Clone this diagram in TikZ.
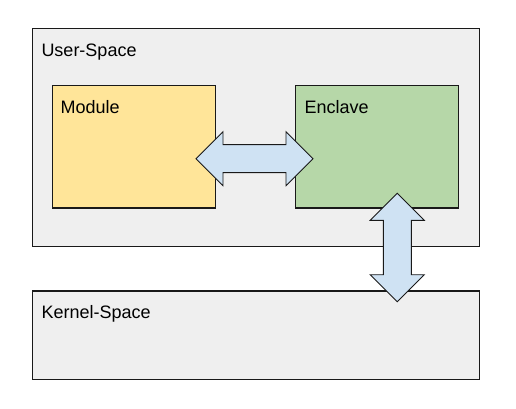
\documentclass[tikz,border=0pt]{standalone}
\usepackage{fontspec}
\setmainfont{Liberation Sans}
\usetikzlibrary{positioning,calc}

\definecolor{spacegray}{HTML}{EFEFEF}
\definecolor{moduleyellow}{HTML}{FFE599}
\definecolor{enclavegreen}{HTML}{B6D7A8}
\definecolor{linkblue}{HTML}{CFE2F3}

\begin{document}
\begin{tikzpicture}[x=1pt,y=-1pt]
	\tikzset{
		box/.style={draw=black!90,line width=1.1pt,rectangle,inner sep=0pt,outer sep=0pt,anchor=north west},
		tag/.style={inner sep=0pt,anchor=base west,font=\fontsize{18}{21}\selectfont},
		link/.style={draw=black!90,line width=0.9pt,fill=linkblue,line join=miter}
	}
	\useasboundingbox (0,0) rectangle (516,409);
	% boxes
	\node[box,fill=spacegray,minimum width=446.6pt,minimum height=218.4pt] (user) at (32.7,28.3) {};
	\node[box,fill=moduleyellow,minimum width=163.4pt,minimum height=122.7pt] (module) at (52.3,85.3) {};
	\node[box,fill=enclavegreen,minimum width=163pt,minimum height=122.7pt] (enclave) at (295.3,85.3) {};
	\node[box,fill=spacegray,minimum width=446.6pt,minimum height=88.3pt] (kernel) at (32.7,291) {};
	% labels
	\node[tag] (userLbl) at ($(user.north west)+(8.6,28)$) {User-Space};
	\node[tag] (moduleLbl) at ($(module.north west)+(8.2,27.8)$) {Module};
	\node[tag] (enclaveLbl) at ($(enclave.north west)+(9,27.8)$) {Enclave};
	\node[tag] (kernelLbl) at ($(kernel.north west)+(8.6,27.2)$) {Kernel-Space};
	% link ends
	\coordinate (mEnd) at ($(module.east)+(-19.7,12)$);
	\coordinate (eEnd) at ($(enclave.west)+(17.7,12)$);
	\coordinate (eDown) at ($(enclave.south)+(20.5,-14.7)$);
	\coordinate (kEnd) at ($(eDown |- kernel.north)+(0,10.7)$);
	% links
	\draw[link] (mEnd) -- ($(mEnd)+(27,-27)$) -- ($(mEnd)+(27,-14)$)
		-- ($(eEnd)+(-27,-14)$) -- ($(eEnd)+(-27,-27)$) -- (eEnd)
		-- ($(eEnd)+(-27,27)$) -- ($(eEnd)+(-27,14)$)
		-- ($(mEnd)+(27,14)$) -- ($(mEnd)+(27,27)$) -- cycle;
	\draw[link] (eDown) -- ($(eDown)+(27,27)$) -- ($(eDown)+(14,27)$)
		-- ($(kEnd)+(14,-27)$) -- ($(kEnd)+(27,-27)$) -- (kEnd)
		-- ($(kEnd)+(-27,-27)$) -- ($(kEnd)+(-14,-27)$)
		-- ($(eDown)+(-14,27)$) -- ($(eDown)+(-27,27)$) -- cycle;
\end{tikzpicture}
\end{document}
